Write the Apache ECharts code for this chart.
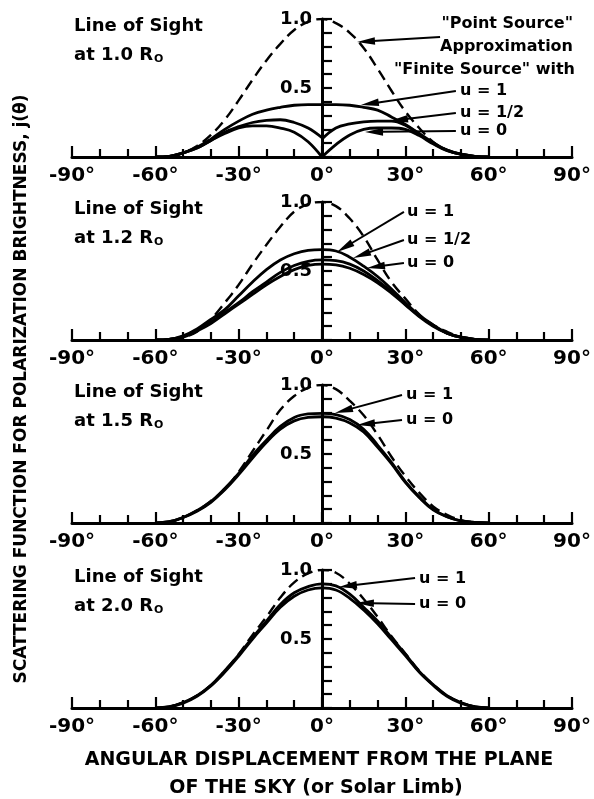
<!DOCTYPE html>
<html>
<head>
<meta charset="utf-8">
<script src="https://cdn.jsdelivr.net/npm/echarts@6.0.0/dist/echarts.min.js"></script>
<style>
  html, body { margin: 0; padding: 0; background: #fff; }
  #chart { width: 594px; height: 799px; }
</style>
</head>
<body>
<div id="chart"></div>
<script>
// ---- tabulated scattering function j(theta), theta in degrees ----
const thetaDeg = [-60,-55,-50,-45,-40,-35,-30,-25,-20,-15,-10,-5,0,5,10,15,20,25,30,35,40,45,50,55,60];
const thetaNeg = [-60,-55,-50,-45,-40,-35,-30,-25,-20,-15,-10,-5,0];
const thetaPos = [0,5,10,15,20,25,30,35,40,45,50,55,60];

// line of sight at 1.0 R
const pointSrc10 = [0,0,0.03,0.08,0.16,0.27,0.41,0.56,0.70,0.82,0.92,0.98,1.0,0.97,0.90,0.79,0.64,0.48,0.33,0.21,0.11,0.05,0.02,0.005,0];
const u1_10      = [0,0.005,0.03,0.07,0.13,0.20,0.26,0.31,0.34,0.36,0.375,0.38,0.38,0.38,0.375,0.36,0.34,0.29,0.235,0.17,0.105,0.05,0.02,0.005,0];
const uHalf10Neg = [0,0.005,0.03,0.065,0.12,0.18,0.22,0.25,0.265,0.27,0.25,0.21,0.14];
const uHalf10Pos = [0.13,0.21,0.24,0.255,0.26,0.26,0.23,0.165,0.10,0.05,0.02,0.005,0];
const u0_10Neg   = [0,0.005,0.03,0.065,0.12,0.17,0.21,0.225,0.225,0.21,0.18,0.11,0];
const u0_10Pos   = [0,0.09,0.16,0.20,0.21,0.21,0.20,0.155,0.095,0.045,0.02,0.005,0];

// line of sight at 1.2 R
const pointSrc12 = [0,0,0.02,0.06,0.15,0.27,0.40,0.55,0.69,0.82,0.93,0.985,1.0,0.97,0.88,0.75,0.58,0.42,0.30,0.185,0.11,0.06,0.02,0.005,0];
const u1_12      = [0,0.005,0.03,0.08,0.15,0.22,0.32,0.42,0.51,0.58,0.625,0.65,0.655,0.645,0.60,0.535,0.46,0.37,0.27,0.18,0.11,0.05,0.02,0.005,0];
const uHalf12    = [0,0.005,0.025,0.07,0.13,0.20,0.27,0.35,0.42,0.49,0.54,0.57,0.58,0.575,0.55,0.50,0.43,0.35,0.26,0.175,0.105,0.05,0.02,0.005,0];
const u0_12      = [0,0.005,0.02,0.065,0.12,0.19,0.26,0.33,0.40,0.46,0.51,0.54,0.55,0.545,0.52,0.475,0.415,0.34,0.255,0.17,0.10,0.05,0.02,0.005,0];

// line of sight at 1.5 R
const pointSrc15 = [0,0.005,0.04,0.09,0.16,0.245,0.37,0.52,0.67,0.82,0.92,0.98,1.0,0.97,0.885,0.78,0.64,0.48,0.34,0.22,0.12,0.06,0.02,0.005,0];
const u1_15      = [0,0.01,0.04,0.09,0.155,0.25,0.36,0.49,0.60,0.70,0.765,0.79,0.795,0.785,0.75,0.68,0.565,0.44,0.30,0.19,0.10,0.045,0.015,0.004,0];
const u0_15      = [0,0.01,0.04,0.085,0.15,0.24,0.35,0.47,0.585,0.68,0.74,0.765,0.77,0.76,0.725,0.66,0.55,0.43,0.295,0.185,0.095,0.045,0.015,0.004,0];

// line of sight at 2.0 R
const pointSrc20 = [0,0.01,0.04,0.09,0.165,0.27,0.39,0.53,0.66,0.80,0.91,0.975,1.0,0.98,0.90,0.79,0.66,0.52,0.395,0.27,0.17,0.09,0.04,0.01,0];
const u1_20      = [0,0.01,0.04,0.09,0.165,0.27,0.385,0.51,0.63,0.75,0.835,0.88,0.90,0.885,0.825,0.73,0.63,0.51,0.39,0.265,0.17,0.09,0.04,0.01,0];
const u0_20      = [0,0.008,0.035,0.085,0.16,0.26,0.375,0.50,0.615,0.73,0.81,0.855,0.87,0.855,0.795,0.71,0.61,0.495,0.38,0.26,0.165,0.085,0.035,0.008,0];

// axis labelling
const xLabelStep = 30;           // degrees between labelled ticks
const yLabelValues = [0.5, 1.0]; // the only labelled ordinates
const panelRadii = ['1.0', '1.2', '1.5', '2.0'];

// ---- layout ----
const FONT = '"DejaVu Sans", sans-serif';
const INK = '#000';
const gridLeft = 72, gridWidth = 500, gridHeight = 138;
const gridTops = [19, 202, 385, 570];

const pairs = (xs, ys) => xs.map((x, i) => [x, ys[i]]);

// Each panel: dashed point-source curve and the finite-source curves
const panels = [
  { dashed: [pairs(thetaDeg, pointSrc10)],
    solid: [pairs(thetaDeg, u1_10), pairs(thetaNeg, uHalf10Neg), pairs(thetaPos, uHalf10Pos),
            pairs(thetaNeg, u0_10Neg), pairs(thetaPos, u0_10Pos)] },
  { dashed: [pairs(thetaDeg, pointSrc12)],
    solid: [pairs(thetaDeg, u1_12), pairs(thetaDeg, uHalf12), pairs(thetaDeg, u0_12)] },
  { dashed: [pairs(thetaDeg, pointSrc15)],
    solid: [pairs(thetaDeg, u1_15), pairs(thetaDeg, u0_15)] },
  { dashed: [pairs(thetaDeg, pointSrc20)],
    solid: [pairs(thetaDeg, u1_20), pairs(thetaDeg, u0_20)] }
];

// Callout leaders, in axis units: [theta start, j start, theta tip, j tip]
const leaders = [
  [[42.5, 0.870, 12.6, 0.833], [48.2, 0.478, 14.0, 0.377], [48.2, 0.319, 24.5, 0.261], [48.2, 0.188, 15.5, 0.181]],
  [[29.5, 0.928, 5.4, 0.638], [29.5, 0.725, 11.2, 0.594], [29.5, 0.558, 16.2, 0.522]],
  [[28.8, 0.928, 4.7, 0.797], [28.8, 0.746, 12.6, 0.710]],
  [[33.5, 0.942, 6.1, 0.877], [33.5, 0.754, 12.2, 0.761]]
];

// Callout captions (pixel placement)
const captions = [
  { x: 573, y: 24, text: '"Point Source"', align: 'right' },
  { x: 573, y: 47, text: 'Approximation', align: 'right' },
  { x: 575, y: 70, text: '"Finite Source" with', align: 'right' },
  { x: 460, y: 91, text: 'u = 1' },
  { x: 460, y: 113, text: 'u = 1/2' },
  { x: 460, y: 131, text: 'u = 0' },
  { x: 407, y: 212, text: 'u = 1' },
  { x: 407, y: 240, text: 'u = 1/2' },
  { x: 407, y: 263, text: 'u = 0' },
  { x: 406, y: 395, text: 'u = 1' },
  { x: 406, y: 420, text: 'u = 0' },
  { x: 419, y: 579, text: 'u = 1' },
  { x: 419, y: 604, text: 'u = 0' }
];

function drawLeader(params, api) {
  const a = api.coord([api.value(0), api.value(1)]);
  const b = api.coord([api.value(2), api.value(3)]);
  const dx = b[0] - a[0], dy = b[1] - a[1];
  const len = Math.hypot(dx, dy);
  const ux = dx / len, uy = dy / len;
  const head = 18, half = 3.8;
  const bx = b[0] - ux * head, by = b[1] - uy * head;
  return {
    type: 'group',
    children: [
      { type: 'line', shape: { x1: a[0], y1: a[1], x2: bx + ux * 2, y2: by + uy * 2 },
        style: { stroke: INK, lineWidth: 2 } },
      { type: 'polygon',
        shape: { points: [[b[0], b[1]], [bx - uy * half, by + ux * half], [bx + uy * half, by - ux * half]] },
        style: { fill: INK } }
    ]
  };
}

const grid = [], xAxis = [], yAxis = [], series = [];

panels.forEach((p, i) => {
  grid.push({ left: gridLeft, width: gridWidth, top: gridTops[i], height: gridHeight });
  xAxis.push({
    type: 'value', gridIndex: i, min: -90, max: 90, interval: xLabelStep,
    axisLine: { show: true, onZero: false, lineStyle: { color: INK, width: 3 } },
    axisTick: { show: true, inside: true, length: 11, lineStyle: { color: INK, width: 2.2 } },
    minorTick: { show: true, splitNumber: 3, length: 8, lineStyle: { color: INK, width: 2.2 } },
    splitLine: { show: false }, minorSplitLine: { show: false },
    axisLabel: { margin: 9, color: INK, fontFamily: FONT, fontWeight: 'bold', fontSize: 20,
                 formatter: v => v + '°' }
  });
  // the ordinate axis stands at theta = 0, the middle of the grid
  yAxis.push({
    type: 'value', gridIndex: i, min: 0, max: 1, interval: 0.1,
    position: 'left', offset: -gridWidth / 2,
    axisLine: { show: true, onZero: false, lineStyle: { color: INK, width: 3 } },
    axisTick: { show: true, inside: true, length: 10, lineStyle: { color: INK, width: 2.2 } },
    splitLine: { show: false },
    axisLabel: { margin: 10, color: INK, fontFamily: FONT, fontWeight: 'bold', fontSize: 18,
                 formatter: v => (yLabelValues.some(t => Math.abs(t - v) < 1e-6) ? v.toFixed(1) : '') }
  });
  p.dashed.forEach(d => series.push({
    type: 'line', xAxisIndex: i, yAxisIndex: i, data: d, symbol: 'none', smooth: 0.4,
    lineStyle: { color: INK, width: 2.4, type: [11, 6] }, silent: true
  }));
  p.solid.forEach(d => series.push({
    type: 'line', xAxisIndex: i, yAxisIndex: i, data: d, symbol: 'none', smooth: 0.4,
    lineStyle: { color: INK, width: 2.8 }, silent: true
  }));
  series.push({
    type: 'custom', xAxisIndex: i, yAxisIndex: i, data: leaders[i],
    renderItem: drawLeader, silent: true, z: 5
  });
});

const textStyle = (extra) => Object.assign({ fill: INK, fontFamily: FONT, fontWeight: 'bold' }, extra);

const graphic = [];
panelRadii.forEach((r, i) => {
  const top = gridTops[i];
  graphic.push({ type: 'text', x: 74, y: top + 7,
    style: textStyle({ text: 'Line of Sight', fontSize: 18, align: 'left', verticalAlign: 'middle' }) });
  graphic.push({ type: 'text', x: 74, y: top + 36,
    style: textStyle({ text: 'at ' + r + ' R{s|O}', fontSize: 18, align: 'left', verticalAlign: 'middle',
      rich: { s: { fontSize: 11, fontFamily: FONT, fontWeight: 'bold', fill: INK, padding: [9, 0, 0, 1] } } }) });
});
captions.forEach(c => graphic.push({ type: 'text', x: c.x, y: c.y,
  style: textStyle({ text: c.text, fontSize: 16, align: c.align || 'left', verticalAlign: 'middle' }) }));

// axis titles
graphic.push({ type: 'text', x: 22, y: 389, rotation: Math.PI / 2,
  style: textStyle({ text: 'SCATTERING FUNCTION FOR POLARIZATION BRIGHTNESS, j(θ)', fontSize: 17,
                     align: 'center', verticalAlign: 'middle' }) });
graphic.push({ type: 'text', x: 319, y: 760,
  style: textStyle({ text: 'ANGULAR DISPLACEMENT FROM THE PLANE', fontSize: 19, align: 'center', verticalAlign: 'middle' }) });
graphic.push({ type: 'text', x: 316, y: 788,
  style: textStyle({ text: 'OF THE SKY (or Solar Limb)', fontSize: 19, align: 'center', verticalAlign: 'middle' }) });

const chart = echarts.init(document.getElementById('chart'), null, { renderer: 'canvas' });
chart.setOption({
  backgroundColor: '#fff',
  animation: false,
  grid, xAxis, yAxis, series, graphic
});
</script>
</body>
</html>
